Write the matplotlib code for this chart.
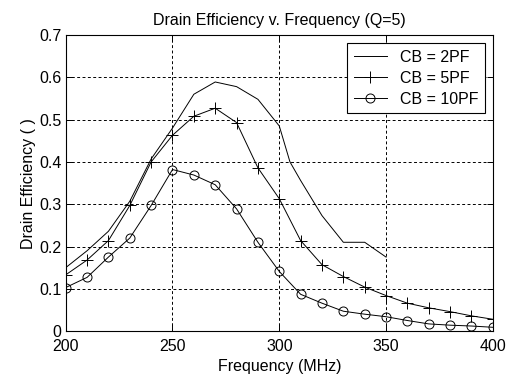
import matplotlib
matplotlib.use("Agg")
import matplotlib.pyplot as plt

plt.rcParams['font.family'] = ['Liberation Sans', 'DejaVu Sans']

# Frequency axis (MHz)
freq = [200, 210, 220, 230, 240, 250, 260, 270, 280, 290, 300,
        310, 320, 330, 340, 350, 360, 370, 380, 390, 400]

# CB = 2PF only measured up to 350 MHz
freq_2pf = [200, 210, 220, 230, 240, 250, 260, 270, 280, 290, 300,
            305, 310, 320, 330, 340, 350]
eff_2pf = [0.150, 0.190, 0.236, 0.307, 0.407, 0.480, 0.560, 0.589, 0.578,
           0.548, 0.485, 0.400, 0.356, 0.273, 0.210, 0.210, 0.175]

eff_5pf = [0.133, 0.168, 0.214, 0.297, 0.400, 0.463, 0.508, 0.527, 0.493,
           0.386, 0.313, 0.214, 0.157, 0.129, 0.104, 0.084, 0.066, 0.055,
           0.046, 0.036, 0.028]

eff_10pf = [0.103, 0.127, 0.175, 0.220, 0.297, 0.382, 0.369, 0.346, 0.289,
            0.210, 0.141, 0.087, 0.066, 0.047, 0.040, 0.034, 0.025, 0.017,
            0.014, 0.012, 0.009]

fig = plt.figure(figsize=(5.15, 3.85), dpi=100)
ax = fig.add_axes([0.1276, 0.140, 0.957 - 0.1276, 0.909 - 0.140])

lw = 0.7
ax.plot(freq_2pf, eff_2pf, color='black', linewidth=lw, label='CB = 2PF')
ax.plot(freq, eff_5pf, color='black', linewidth=lw, marker='+',
        markersize=8, markeredgewidth=lw, label='CB = 5PF')
ax.plot(freq, eff_10pf, color='black', linewidth=lw, marker='o',
        markersize=6.5, markerfacecolor='none', markeredgewidth=lw,
        label='CB = 10PF')

ax.set_xlim(200, 400)
ax.set_ylim(0, 0.7)
ax.set_xticks([200, 250, 300, 350, 400])
ax.set_yticks([0, 0.1, 0.2, 0.3, 0.4, 0.5, 0.6, 0.7])
ax.set_yticklabels(['0', '0.1', '0.2', '0.3', '0.4', '0.5', '0.6', '0.7'])

ax.grid(True, color='black', linestyle=(0, (3, 2.5)), linewidth=0.7)
ax.tick_params(direction='in', top=True, right=True, length=4,
               width=0.7, labelsize=11.5)
ax.tick_params(axis='x', pad=6)
ax.tick_params(axis='y', pad=3)
for s in ax.spines.values():
    s.set_linewidth(0.8)

ax.set_title('Drain Efficiency v. Frequency (Q=5)', fontsize=11.5, pad=7)
ax.set_xlabel('Frequency (MHz)', fontsize=11.5, labelpad=3)
ax.set_ylabel('Drain Efficiency ( )', fontsize=11.5, labelpad=2)

leg = ax.legend(loc='upper right', bbox_to_anchor=(0.981, 0.972),
                fancybox=False, edgecolor='black', framealpha=1,
                fontsize=11.5, handlelength=2.1, borderaxespad=0,
                labelspacing=0.38, borderpad=0.4, handletextpad=0.8)
leg.get_frame().set_linewidth(0.8)

fig.savefig('out.png', dpi=100)
